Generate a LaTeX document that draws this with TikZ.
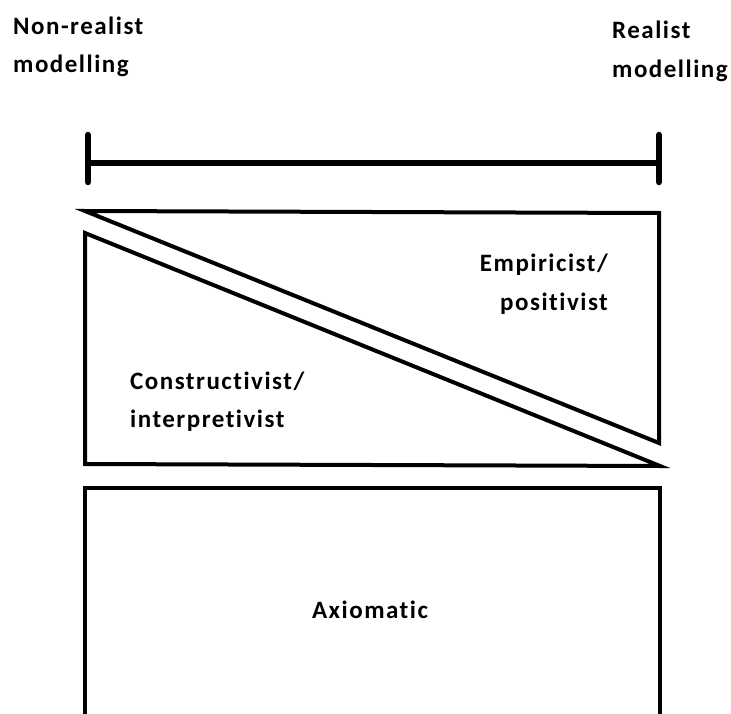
\documentclass[tikz,border=0pt]{standalone}
\usepackage{fontspec}
\setmainfont[LetterSpace=6, Ligatures=NoCommon]{Carlito}
\begin{document}
\begin{tikzpicture}[x=1pt,y=-1pt,
  lbl/.style={font=\bfseries\fontsize{25}{38}\selectfont, inner sep=0pt},
  outline/.style={line width=4pt, line join=miter},
  bar/.style={line width=5.5pt},
  tickmark/.style={line width=6.5pt, line cap=round}]
\useasboundingbox (0,0) rectangle (731,714);
% labels top
\node[lbl, anchor=base west] (nonreal1) at (13,35) {Non-realist};
\node[lbl, anchor=base west] (nonreal2) at (13,73) {modelling};
\node[lbl, anchor=base west] (real1) at (612,39) {Realist};
\node[lbl, anchor=base west] (real2) at (612,78) {modelling};
% bar
\coordinate (bl) at (88,163);
\coordinate (br) at (659,163);
\coordinate (blt) at (88,135);
\coordinate (blb) at (88,182);
\coordinate (brt) at (659,135);
\coordinate (brb) at (659,182);
\draw[bar] (bl) -- (br);
\draw[tickmark] (blt) -- (blb);
\draw[tickmark] (brt) -- (brb);
% upper triangle
\coordinate (ta) at (85,211);
\coordinate (tb) at (659,213);
\coordinate (tc) at (659,443);
\draw[outline] (ta) -- (tb) -- (tc) -- cycle;
% lower shape
\coordinate (la) at (85,233);
\coordinate (lb) at (660,466);
\coordinate (lc) at (85,464);
\draw[outline] (la) -- (lb) -- (lc) -- cycle;
% axiomatic box
\coordinate (a1) at (85,716);
\coordinate (a2) at (85,488);
\coordinate (a3) at (660,488);
\coordinate (a4) at (660,716);
\draw[outline] (a1) -- (a2) -- (a3) -- (a4);
% texts
\node[lbl, anchor=base east] (emp1) at (608,272) {Empiricist/};
\node[lbl, anchor=base east] (emp2) at (608,310) {positivist};
\node[lbl, anchor=base west] (con1) at (130,389) {Constructivist/};
\node[lbl, anchor=base west] (con2) at (130,427) {interpretivist};
\node[lbl, anchor=base] (axi) at (370,618) {Axiomatic};
\end{tikzpicture}
\end{document}
